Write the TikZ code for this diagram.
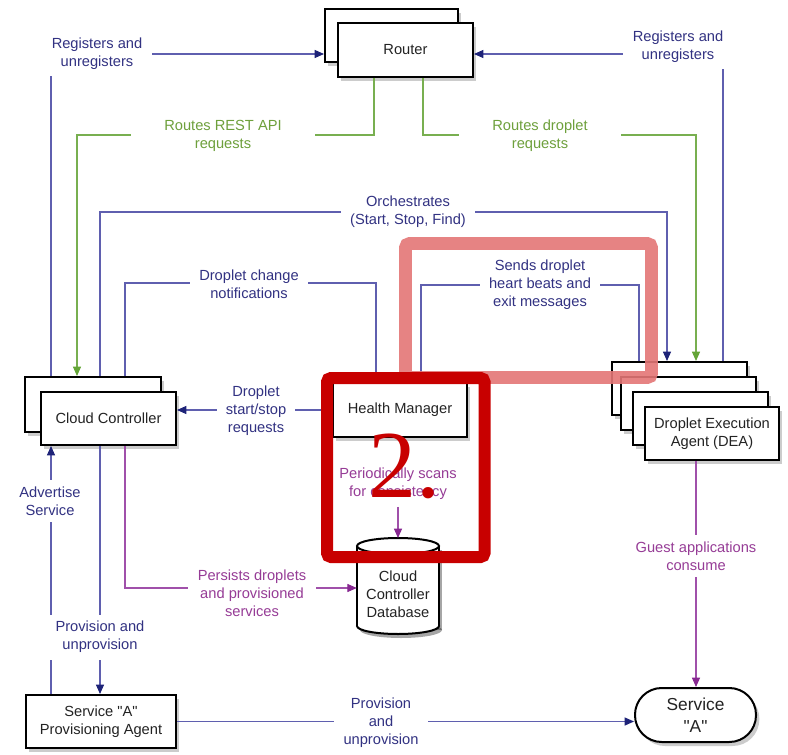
\documentclass[tikz,border=0pt]{standalone}
\usepackage{fontspec}
\setmainfont{Liberation Sans}
\newfontfamily\qf{Liberation Sans}
\newfontfamily\bigserif{Liberation Serif}
\newcommand\sq{{\qf"}}
\usetikzlibrary{arrows.meta,shadows}
\definecolor{bt}{RGB}{50,50,130}
\definecolor{bl}{RGB}{95,95,175}
\definecolor{ba}{RGB}{30,35,120}
\definecolor{gt}{RGB}{110,160,60}
\definecolor{gl}{RGB}{120,175,80}
\definecolor{ga}{RGB}{100,165,55}
\definecolor{pt}{RGB}{150,60,150}
\definecolor{pl}{RGB}{160,80,170}
\definecolor{pa}{RGB}{135,40,145}
\definecolor{pinkov}{RGB}{228,118,118}
\definecolor{redov}{RGB}{200,0,0}
\definecolor{boxtext}{RGB}{35,35,35}
\begin{document}
\begin{tikzpicture}[x=0.75pt,y=-0.75pt,
  box/.style={draw=black, line width=1.5pt, fill=white, inner sep=0pt, align=center,
    text=boxtext, font=\fontsize{11}{13.5}\selectfont,
    drop shadow={shadow xshift=2.5pt, shadow yshift=-3pt, opacity=0.4}},
  sz/.style 2 args={minimum width=#1*0.75pt, minimum height=#2*0.75pt},
  lab/.style={align=center, fill=white, inner xsep=7pt, inner ysep=5pt,
    font=\fontsize{11}{13.5}\selectfont},
  blab/.style={lab, text=bt},
  glab/.style={lab, text=gt, inner xsep=25pt},
  plab/.style={lab, text=pt},
  barr/.style={draw=bl, line width=0.8pt, -{Triangle[length=7pt,width=6pt,color=ba]}},
  garr/.style={draw=gl, line width=0.8pt, -{Triangle[length=7pt,width=6pt,color=ga]}},
  parr/.style={draw=pl, line width=0.8pt, -{Triangle[length=7pt,width=6pt,color=pa]}}
]
\useasboundingbox (0,0) rectangle (788,755);
\fill[white] (0,0) rectangle (788,755);

% ---- boxes
\node[box, sz={133}{53}] (routerB) at (391.5,35.5) {};
\node[box, sz={135}{54}] (router) at (405.5,50) {Router};

\node[box, sz={136}{55}] (ccB) at (93,404.5) {};
\node[box, sz={135}{53}] (cc) at (108.5,418.5) {Cloud Controller};

\node[box, sz={134}{54}] (hm) at (400,410) {Health Manager};

\node[box, sz={135}{53}] (dea1) at (679.5,388.5) {};
\node[box, sz={135}{53}] (dea2) at (688.5,403.5) {};
\node[box, sz={135}{53}] (dea3) at (700.5,418.5) {};
\node[box, sz={134}{53}] (dea4) at (712,433.5) {Droplet Execution\\Agent (DEA)};

\node[box, sz={150}{53}] (agent) at (101,721.5) {Service \sq A\sq\\Provisioning Agent};
\node[box, sz={121}{54}, rounded corners=20pt, font=\fontsize{13}{16.5}\selectfont] (svc) at (695.5,715) {Service\\\sq A\sq};

% ---- database cylinder
\begin{scope}[shift={(3,4)}, opacity=0.35]
  \fill[black] (357,546) rectangle (439,626);
  \fill[black] (398,626) ellipse [x radius=41, y radius=8];
\end{scope}
\draw[line width=1.5pt, fill=white] (398,626) ellipse [x radius=41, y radius=8];
\fill[white] (357,546) rectangle (439,626);
\draw[line width=1.5pt] (357,546) -- (357,626) (439,546) -- (439,626);
\draw[line width=1.5pt, fill=white] (398,546) ellipse [x radius=41, y radius=8];
\node[align=center, text=boxtext, font=\fontsize{11}{13.5}\selectfont, sz={82}{78}, inner sep=0pt] (db) at (398,594) {Cloud\\Controller\\Database};
\coordinate (dbtop) at (398,538);

% ---- connectors
\draw[barr] (ccB.north -| 51,0) -- (51,54) -- (routerB.west |- 0,54);
\draw[barr] (dea1.north -| 723,0) -- (723,54) -- (router.east |- 0,54);
\draw[garr] (router.south -| 374,0) -- (374,135) -- (77,135) -- (ccB.north -| 77,0);
\draw[garr] (router.south -| 423,0) -- (423,135) -- (696,135) -- (dea1.north -| 696,0);
\draw[barr] (ccB.north -| 100,0) -- (100,212) -- (667,212) -- (dea1.north -| 667,0);
\draw[barr] (ccB.north -| 125,0) -- (125,283) -- (376,283) -- (hm.north -| 376,0);
\draw[barr] (dea1.north -| 639,0) -- (639,285) -- (421,285) -- (hm.north -| 421,0);
\draw[barr] (hm.west) -- (hm.west -| cc.east);
\draw[parr] (cc.south -| 125,0) -- (125,588) -- (db.west |- 0,588);
\draw[parr] (dea4.south -| 696,0) -- (svc.north -| 696,0);
\draw[barr] (agent.north -| 51,0) -- (cc.south -| 51,0);
\draw[barr] (cc.south -| 100,0) -- (agent.north -| 100,0);
\draw[barr] (agent.east) -- (svc.west |- agent.east);

% ---- labels
\node[blab] (lreg1) at (97,54) {Registers and\\unregisters};
\node[blab] (lreg2) at (678,47) {Registers and\\unregisters};
\node[glab] (lrest) at (223,136) {Routes REST API\\requests};
\node[glab] (lrdrop) at (540,136) {Routes droplet\\requests};
\node[blab] (lorch) at (408,212) {Orchestrates\\(Start, Stop, Find)};
\node[blab] (lchg) at (249,284) {Droplet change\\notifications};
\node[blab] (lsend) at (540,285) {Sends droplet\\heart beats and\\exit messages};
\node[blab] (lss) at (256,411) {Droplet\\start/stop\\requests};
\node[plab] (lper) at (398,484) {Periodically scans\\for consistency};
\draw[parr] (lper.south) -- (dbtop);
\node[plab] (lpers) at (252,593) {Persists droplets\\and provisioned\\services};
\node[plab] (lguest) at (696,556) {Guest applications\\consume};
\node[blab] (ladv) at (50,501) {Advertise\\Service};
\node[blab] (lprov) at (100,637) {Provision and\\unprovision};
\node[blab] (lprov2) at (381,723) {Provision\\and\\unprovision};

% ---- overlays
\draw[pinkov, opacity=0.9, line width=9.5pt, rounded corners=3pt] (405.5,243.5) rectangle (651.5,377.5);
\draw[redov, line width=9pt, rounded corners=3pt] (327,378) rectangle (484.5,557);
\node[text=redov, font=\bigserif\fontsize{72}{72}\selectfont, inner sep=0pt, anchor=base] (two) at (404,497) {2.};
\end{tikzpicture}
\end{document}
